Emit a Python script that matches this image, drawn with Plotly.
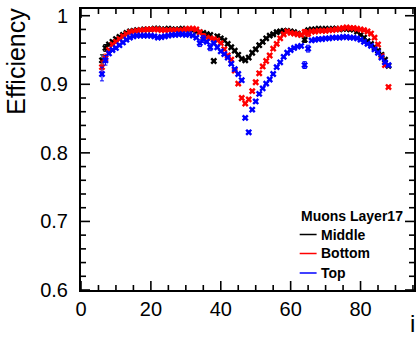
import plotly.graph_objects as go

# ---------------- data ----------------
bins = list(range(6, 89))

middle = [0.935, 0.953, 0.958, 0.962, 0.966, 0.969, 0.972, 0.975, 0.977, 0.978,
          0.979, 0.979, 0.980, 0.980, 0.980, 0.981, 0.981, 0.980, 0.980, 0.981,
          0.980, 0.980, 0.980, 0.981, 0.980, 0.980, 0.979, 0.977, 0.976, 0.975,
          0.973, 0.972, 0.934, 0.970, 0.967, 0.964, 0.959, 0.954, 0.949, 0.943,
          0.937, 0.935, 0.939, 0.946, 0.951, 0.957, 0.962, 0.967, 0.971, 0.973,
          0.976, 0.977, 0.978, 0.978, 0.977, 0.976, 0.974, 0.972, 0.965, 0.979,
          0.980, 0.980, 0.981, 0.980, 0.981, 0.980, 0.981, 0.981, 0.980, 0.981,
          0.981, 0.980, 0.980, 0.977, 0.972, 0.968, 0.963, 0.959, 0.954, 0.949,
          0.943, 0.936, 0.927]

bottom = [0.925, 0.938, 0.950, 0.958, 0.962, 0.966, 0.970, 0.973, 0.976, 0.977,
          0.978, 0.979, 0.979, 0.980, 0.980, 0.980, 0.980, 0.979, 0.979, 0.979,
          0.979, 0.979, 0.979, 0.979, 0.980, 0.981, 0.981, 0.980, 0.976, 0.970,
          0.968, 0.967, 0.966, 0.964, 0.960, 0.951, 0.942, 0.936, 0.920, 0.901,
          0.880, 0.872, 0.878, 0.890, 0.903, 0.916, 0.926, 0.934, 0.942, 0.952,
          0.959, 0.967, 0.973, 0.977, 0.975, 0.974, 0.973, 0.972, 0.976, 0.974,
          0.977, 0.977, 0.978, 0.978, 0.978, 0.979, 0.979, 0.980, 0.981, 0.982,
          0.983, 0.982, 0.982, 0.981, 0.980, 0.979, 0.977, 0.974, 0.968, 0.958,
          0.941, 0.928, 0.896]

top = [0.915, 0.935, 0.945, 0.950, 0.953, 0.957, 0.961, 0.965, 0.968, 0.970,
       0.971, 0.971, 0.971, 0.971, 0.971, 0.970, 0.968, 0.969, 0.970, 0.971,
       0.972, 0.972, 0.973, 0.973, 0.972, 0.973, 0.971, 0.968, 0.960, 0.966,
       0.962, 0.954, 0.960, 0.954, 0.948, 0.944, 0.939, 0.930, 0.922, 0.915,
       0.906, 0.851, 0.830, 0.863, 0.875, 0.886, 0.894, 0.901, 0.907, 0.915,
       0.925, 0.932, 0.940, 0.946, 0.950, 0.953, 0.955, 0.956, 0.928, 0.952,
       0.964, 0.965, 0.966, 0.966, 0.967, 0.967, 0.968, 0.968, 0.968, 0.969,
       0.969, 0.968, 0.968, 0.967, 0.965, 0.962, 0.959, 0.956, 0.951, 0.946,
       0.939, 0.932, 0.928]

# statistical errors (larger for the boxed outlier points)
err_middle = [0.008, 0.005] + [0.0015] * 81
err_bottom = [0.009, 0.006] + [0.0015] * 81
err_top = [0.010, 0.007] + [0.0015] * 81
for i, b in enumerate(bins):
    if b in (35, 64, 65):
        err_bottom[i] = 0.004
    if b in (34, 35, 37, 64, 65):
        err_top[i] = 0.005
    if b in (64,):
        err_middle[i] = 0.004

series_names = ["Middle", "Bottom", "Top"]
series_colors = ["#000000", "#ff0000", "#0000ff"]
legend_title = "Muons Layer17"

x_major = [0, 20, 40, 60, 80]
x_minor = [v for v in range(0, 96, 5) if v not in x_major]
y_major = [0.6, 0.7, 0.8, 0.9, 1.0]
y_minor = [round(0.6 + 0.02 * k, 2) for k in range(21)]
y_minor = [v for v in y_minor if v not in y_major]

FONT = "Liberation Sans, Arial, sans-serif"

fig = go.Figure()
for name, ys, errs, col in zip(series_names, [middle, bottom, top],
                               [err_middle, err_bottom, err_top], series_colors):
    fig.add_trace(go.Scatter(
        x=bins, y=ys, mode="markers", name=name, showlegend=False,
        marker=dict(symbol="x", size=6, color=col, line=dict(width=0)),
        error_y=dict(type="data", array=errs, visible=True, thickness=1, width=2, color=col),
        error_x=dict(type="constant", value=0.5, visible=True, thickness=1, width=0, color=col),
    ))

fig.update_xaxes(range=[0, 95.3], tickmode="array", tickvals=x_major,
                 showline=True, linecolor="black", linewidth=2, mirror=True,
                 ticks="", showgrid=False, zeroline=False,
                 tickfont=dict(family=FONT, size=20, color="black"))
fig.update_yaxes(range=[0.6, 1.0098], tickmode="array", tickvals=y_major,
                 ticktext=["0.6", "0.7", "0.8", "0.9", "1"],
                 showline=True, linecolor="black", linewidth=2, mirror=True,
                 ticks="", showgrid=False, zeroline=False, ticklabelstandoff=7,
                 tickfont=dict(family=FONT, size=20, color="black"))

# ROOT-style inside ticks on all four sides, placed through the axes' own scales
shapes = []
tick_line = dict(color="black", width=1.6)
for vals, L in ((x_major, 9), (x_minor, 5)):
    for v in vals:
        shapes.append(dict(type="line", xref="x", yref="paper", ysizemode="pixel",
                           yanchor=0, x0=v, x1=v, y0=0, y1=L, line=tick_line, layer="above"))
        shapes.append(dict(type="line", xref="x", yref="paper", ysizemode="pixel",
                           yanchor=1, x0=v, x1=v, y0=0, y1=-L, line=tick_line, layer="above"))
for vals, L in ((y_major, 9), (y_minor, 5)):
    for v in vals:
        shapes.append(dict(type="line", yref="y", xref="paper", xsizemode="pixel",
                           xanchor=0, y0=v, y1=v, x0=0, x1=L, line=tick_line, layer="above"))
        shapes.append(dict(type="line", yref="y", xref="paper", xsizemode="pixel",
                           xanchor=1, y0=v, y1=v, x0=0, x1=-L, line=tick_line, layer="above"))

annotations = [
    dict(text="Efficiency", textangle=-90, xref="paper", yref="paper",
         x=-0.243, y=1.01, xanchor="left", yanchor="top", showarrow=False,
         font=dict(family=FONT, size=25, color="black")),
    dict(text="i", xref="paper", yref="paper", x=1.008, y=-0.065,
         xanchor="right", yanchor="top", showarrow=False,
         font=dict(family=FONT, size=24, color="black")),
    dict(text="<b>" + legend_title + "</b>", xref="paper", yref="paper",
         x=0.6537, y=0.2633, xanchor="left", yanchor="middle", showarrow=False,
         font=dict(family=FONT, size=14, color="black")),
]
leg_y = [0.1975, 0.1299, 0.0605]
for name, col, yy in zip(series_names, series_colors, leg_y):
    annotations.append(dict(text="<b>" + name + "</b>", xref="paper", yref="paper",
                            x=0.7134, y=yy, xanchor="left", yanchor="middle",
                            showarrow=False, font=dict(family=FONT, size=14, color="black")))
    shapes.append(dict(type="line", xref="paper", yref="paper", x0=0.6567, x1=0.7075,
                       y0=yy, y1=yy, line=dict(color=col, width=1.5)))

fig.update_layout(
    width=420, height=342,
    margin=dict(l=81, r=4, t=9, b=52),
    paper_bgcolor="white", plot_bgcolor="white",
    font=dict(family=FONT, color="black"),
    annotations=annotations, shapes=shapes,
)

fig.write_html("out.html")
